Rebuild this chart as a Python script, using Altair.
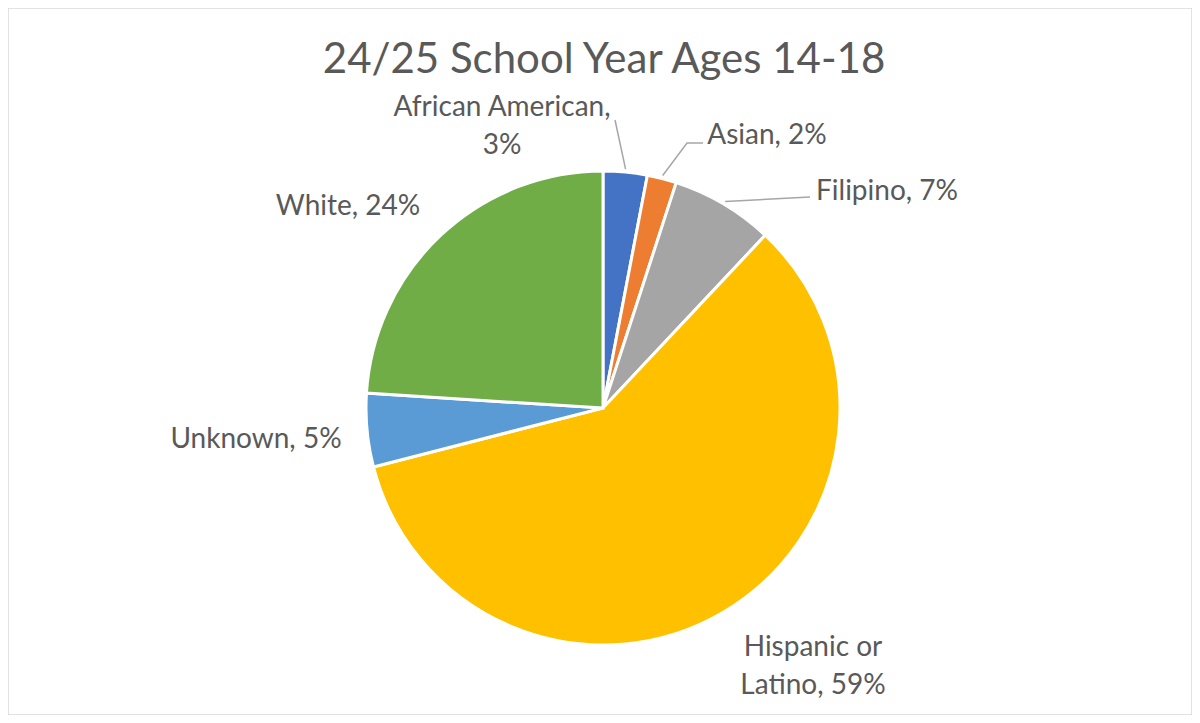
import math
import altair as alt
import pandas as pd

# ---- data ----
categories = ["African American", "Asian", "Filipino", "Hispanic or Latino", "Unknown", "White"]
shares = [3, 2, 7, 59, 5, 24]
label_texts = ["African American,\n3%", "Asian, 2%", "Filipino, 7%", "Hispanic or\nLatino, 59%", "Unknown, 5%", "White, 24%"]
colors = ["#4472C4", "#ED7D31", "#A5A5A5", "#FFC000", "#5B9BD5", "#70AD47"]
title_text = "24/25 School Year Ages 14-18"

# ---- layout (pixels inside the view) ----
W, H = 1184, 707
CX, CY, R = 595, 400, 237
label_pos = {  # centre of the first line of each label
    "African American": (494, 100),
    "Asian": (759, 128),
    "Filipino": (879, 184),
    "Hispanic or Latino": (805, 640),
    "Unknown": (248, 432),
    "White": (340, 199),
}
leader_bends = {  # extra points of leader lines, outer end last
    "African American": [(607, 112)],
    "Asian": [(679, 135), (695, 135)],
    "Filipino": [(802, 189)],
}

df = pd.DataFrame({"cat": categories, "share": shares, "label": label_texts,
                   "idx": list(range(len(categories)))})
df["lx"] = [label_pos[c][0] for c in categories]
df["ly"] = [label_pos[c][1] for c in categories]

# leader lines start at the slice edge at its middle angle
total = sum(shares)
rows = []
cum = 0
for c, s in zip(categories, shares):
    mid = (cum + s / 2) / total * 2 * math.pi
    cum += s
    if c in leader_bends:
        pts = [(CX + (R + 3) * math.sin(mid), CY - (R + 3) * math.cos(mid))] + leader_bends[c]
        for k, (px, py) in enumerate(pts):
            rows.append({"cat": c, "k": k, "px": px, "py": py})
lines_df = pd.DataFrame(rows)

font = "Lato"
gray = "#595959"

pie = alt.Chart(df).mark_arc(outerRadius=R, stroke="white", strokeWidth=3).encode(
    theta=alt.Theta("share:Q", stack=True),
    order=alt.Order("idx:Q"),
    color=alt.Color("cat:N", scale=alt.Scale(domain=categories, range=colors), legend=None),
    x=alt.value(CX),
    y=alt.value(CY),
)

labels = alt.Chart(df).mark_text(font=font, fontSize=28, color=gray, align="center",
                                 baseline="middle", lineBreak="\n", lineHeight=38).encode(
    x=alt.X("lx:Q", scale=None),
    y=alt.Y("ly:Q", scale=None),
    text="label:N",
)

leaders = alt.Chart(lines_df).mark_line(color="#A6A6A6", strokeWidth=1.5).encode(
    x=alt.X("px:Q", scale=None),
    y=alt.Y("py:Q", scale=None),
    detail="cat:N",
    order="k:Q",
)

title = alt.Chart(pd.DataFrame({"t": [title_text]})).mark_text(
    font=font, fontSize=42, color=gray, align="center", baseline="middle"
).encode(x=alt.value(596), y=alt.value(52), text="t:N")

chart = alt.layer(pie, leaders, labels, title).properties(
    width=W, height=H,
    autosize=alt.AutoSizeParams(type="none"),
    padding=0,
).configure_view(stroke="#D9D9D9", strokeWidth=1.5)

chart.save("out.html", embed_options={"renderer": "svg", "actions": False})
